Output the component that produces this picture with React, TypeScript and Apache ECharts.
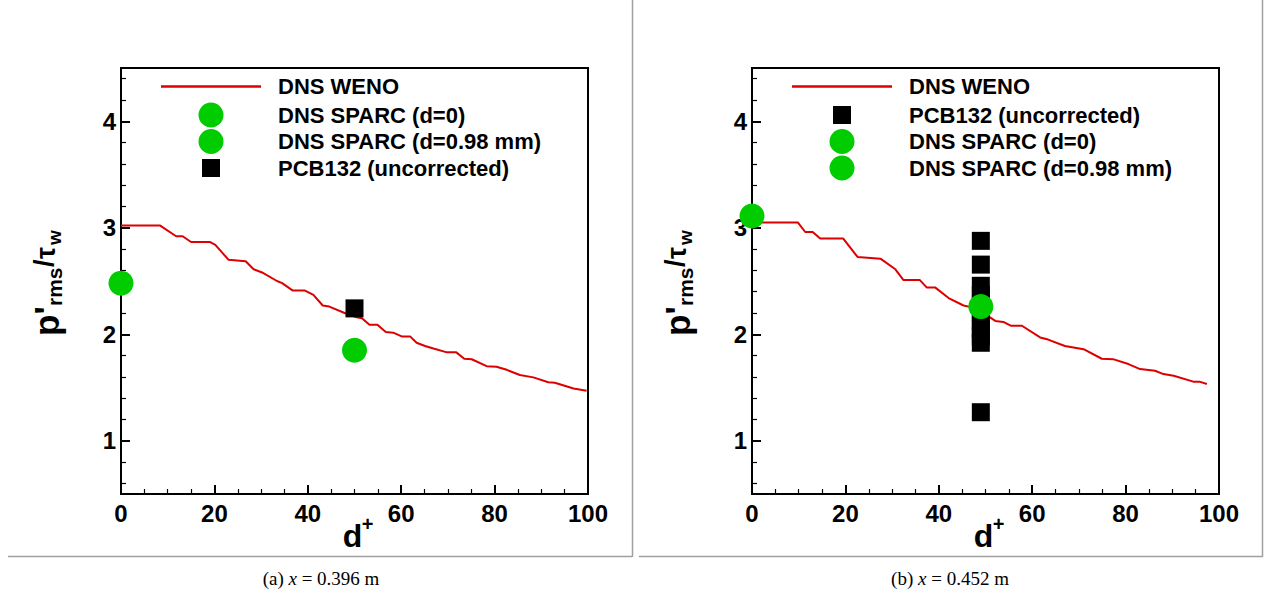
import React, { useEffect, useRef } from "react";
import * as echarts from "echarts";

const FONT = '"Liberation Sans", Arial, Helvetica, sans-serif';
const SERIF = '"Liberation Serif", "Times New Roman", serif';

// ---- axis ticks ----
const yMajorTicks = [1, 2, 3, 4];
const yMinorTicks = [0.6, 0.8, 1.2, 1.4, 1.6, 1.8, 2.2, 2.4, 2.6, 2.8, 3.2, 3.4, 3.6, 3.8, 4.2, 4.4];

// ---- names ----
const WENO = "DNS WENO";
const SPARC0 = "DNS SPARC (d=0)";
const SPARC098 = "DNS SPARC (d=0.98 mm)";
const PCB = "PCB132 (uncorrected)";

// ---- panel (a) x = 0.396 m ----
const leftWenoX = [0, 8.4, 11.8, 13.2, 15.0, 19.1, 20.2, 23.0, 26.7, 28.4, 30.2, 33.4, 34.5, 36.8, 39.4, 41.2, 43.2, 44.6, 48.4, 50.5, 51.6, 53.2, 54.9, 56.7, 58.3, 60.1, 61.9, 63.3, 65.1, 66.9, 69.8, 71.8, 73.5, 75.1, 78.3, 80.4, 82.6, 85.4, 88.3, 91.5, 92.9, 96.9, 99.7];
const leftWenoY = [3.02, 3.02, 2.92, 2.92, 2.866, 2.866, 2.84, 2.70, 2.685, 2.61, 2.58, 2.50, 2.48, 2.41, 2.41, 2.37, 2.27, 2.26, 2.19, 2.16, 2.15, 2.09, 2.09, 2.02, 2.015, 1.98, 1.98, 1.92, 1.89, 1.866, 1.83, 1.83, 1.77, 1.765, 1.70, 1.695, 1.666, 1.617, 1.595, 1.55, 1.545, 1.49, 1.47];
const leftSparc0 = [[0, 2.48]];
const leftSparc098 = [[50, 1.85]];
const leftPcb = [[50, 2.243]];

// ---- panel (b) x = 0.452 m ----
const rightWenoX = [0, 9.8, 11.4, 13.0, 14.6, 19.5, 22.6, 27.5, 30.7, 32.4, 35.9, 37.4, 39.2, 42.1, 45.3, 47.4, 49.5, 52.1, 53.8, 55.4, 57.8, 61.7, 63.4, 67.0, 71.0, 74.9, 77.3, 80.6, 83.1, 86.3, 88.1, 90.3, 94.5, 95.8, 97.4];
const rightWenoY = [3.05, 3.05, 2.96, 2.96, 2.90, 2.90, 2.726, 2.71, 2.61, 2.51, 2.51, 2.44, 2.44, 2.34, 2.27, 2.25, 2.20, 2.125, 2.116, 2.08, 2.08, 1.97, 1.95, 1.89, 1.86, 1.77, 1.766, 1.72, 1.673, 1.657, 1.626, 1.61, 1.555, 1.555, 1.533];
const rightPcbX = 49;
const rightPcbY = [2.877, 2.654, 2.455, 2.37, 2.29, 2.21, 2.13, 2.05, 1.98, 1.92, 1.268];
const rightSparc0 = [[0, 3.11]];
const rightSparc098 = [[49, 2.26]];

const captionLetters = ["(a)", "(b)"];
const captionPositions = ["0.396", "0.452"];

const RED = "#dd0000";
const GREEN = "#00cc00";

const GRIDS = [
  { left: 121, top: 68, width: 467, height: 426 },
  { left: 752, top: 68, width: 467, height: 426 },
];

// legend icons: degenerate corner sub-paths keep the icon box 100 px wide so the symbol is centred
const ICON_LINE = "path://M0,0H100V2.5H0Z";
const ICON_SQUARE = "path://M0,0L0,0ZM100,18L100,18ZM41,0H59V18H41Z";
const ICON_CIRCLE = "path://M0,0L0,0ZM100,25L100,25ZM37.5,12.5A12.5,12.5 0 1,0 62.5,12.5A12.5,12.5 0 1,0 37.5,12.5Z";

function zip(xs: number[], ys: number[]) {
  return xs.map((x, i) => [x, ys[i]]);
}

export default function App() {
  const ref = useRef<HTMLDivElement>(null);

  useEffect(() => {
    if (!ref.current) return;
    const chart = echarts.init(ref.current, null, { renderer: "svg" });

    const labelStyle = { fontSize: 24, fontWeight: "bold", fontFamily: FONT, color: "#000" };
    const black2 = { color: "#000", width: 2 };

    const xAxis = GRIDS.map((_, i) => ({
      gridIndex: i,
      type: "value",
      min: 0,
      max: 100,
      interval: 20,
      axisLine: { show: true, lineStyle: black2 },
      axisTick: { show: true, inside: true, length: 9, lineStyle: black2 },
      minorTick: { show: true, splitNumber: 4, length: 5, lineStyle: { color: "#000", width: 1.2 } },
      axisLabel: { ...labelStyle, margin: 7, showMinLabel: true, showMaxLabel: true },
      splitLine: { show: false },
      minorSplitLine: { show: false },
    }));

    const yAxis: any[] = [];
    GRIDS.forEach((g, i) => {
      yAxis.push({
        gridIndex: i,
        type: "value",
        min: 0.5,
        max: 4.5,
        position: "left",
        axisLine: { show: true, lineStyle: black2 },
        axisTick: { show: true, inside: true, length: 9, customValues: yMajorTicks, lineStyle: black2 },
        axisLabel: { ...labelStyle, margin: 5, customValues: yMajorTicks },
        splitLine: { show: false },
      });
      yAxis.push({
        gridIndex: i,
        type: "value",
        min: 0.5,
        max: 4.5,
        position: "right",
        offset: -g.width,
        axisLine: { show: false },
        axisTick: { show: true, inside: false, length: 5, customValues: yMinorTicks, lineStyle: { color: "#000", width: 1.2 } },
        axisLabel: { show: false },
        splitLine: { show: false },
      });
    });

    const lineSeries = (xi: number, yi: number, data: number[][]) => ({
      name: WENO,
      type: "line",
      xAxisIndex: xi,
      yAxisIndex: yi,
      data,
      symbol: "none",
      showSymbol: false,
      lineStyle: { color: RED, width: 2 },
      itemStyle: { color: RED },
      z: 2,
    });
    const scatter = (name: string, xi: number, yi: number, data: number[][], symbol: string, size: number, color: string, z: number) => ({
      name,
      type: "scatter",
      xAxisIndex: xi,
      yAxisIndex: yi,
      data,
      symbol,
      symbolSize: size,
      itemStyle: { color, opacity: 1 },
      clip: false,
      z,
    });

    const series = [
      lineSeries(0, 0, zip(leftWenoX, leftWenoY)),
      scatter(SPARC0, 0, 0, leftSparc0, "circle", 25, GREEN, 3),
      scatter(SPARC098, 0, 0, leftSparc098, "circle", 25, GREEN, 3),
      scatter(PCB, 0, 0, leftPcb, "rect", 18, "#000", 4),
      lineSeries(1, 2, zip(rightWenoX, rightWenoY)),
      scatter(PCB, 1, 2, rightPcbY.map((y) => [rightPcbX, y]), "rect", 18, "#000", 3),
      scatter(SPARC0, 1, 2, rightSparc0, "circle", 25, GREEN, 4),
      scatter(SPARC098, 1, 2, rightSparc098, "circle", 25, GREEN, 4),
    ];

    const legendText = { fontSize: 22, fontWeight: "bold", fontFamily: FONT, color: "#000", padding: [0, 0, 0, 12] };
    const iconFor: Record<string, string> = {
      [WENO]: ICON_LINE,
      [SPARC0]: ICON_CIRCLE,
      [SPARC098]: ICON_CIRCLE,
      [PCB]: ICON_SQUARE,
    };
    const colorFor: Record<string, string> = {
      [WENO]: RED,
      [SPARC0]: GREEN,
      [SPARC098]: GREEN,
      [PCB]: "#000",
    };
    const mkLegend = (name: string, left: number, centerY: number, h: number) => ({
      show: true,
      orient: "vertical",
      left,
      top: centerY - Math.max(h, 22) / 2,
      padding: 0,
      itemGap: 0,
      itemWidth: 100,
      itemHeight: h,
      selectedMode: false,
      symbolKeepAspect: true,
      data: [{ name, icon: iconFor[name], itemStyle: { color: colorFor[name], borderWidth: 0 } }],
      textStyle: legendText,
    });
    const rows = [88, 115, 141.5, 168];
    const legend = [
      mkLegend(WENO, 161, rows[0], 25),
      mkLegend(SPARC0, 161, rows[1], 25),
      mkLegend(SPARC098, 161, rows[2], 25),
      mkLegend(PCB, 161, rows[3], 18),
      mkLegend(WENO, 792, rows[0], 25),
      mkLegend(PCB, 792, rows[1], 18),
      mkLegend(SPARC0, 792, rows[2], 25),
      mkLegend(SPARC098, 792, rows[3], 25),
    ];

    const sepStyle = { stroke: "#a0a0a0", lineWidth: 1.5 };
    const graphic: any[] = [
      { type: "line", shape: { x1: 8, y1: 556.5, x2: 632, y2: 556.5 }, style: sepStyle, silent: true },
      { type: "line", shape: { x1: 632.5, y1: 0, x2: 632.5, y2: 557 }, style: sepStyle, silent: true },
      { type: "line", shape: { x1: 639, y1: 556.5, x2: 1262.5, y2: 556.5 }, style: sepStyle, silent: true },
      { type: "line", shape: { x1: 1262.5, y1: 0, x2: 1262.5, y2: 557 }, style: sepStyle, silent: true },
    ];

    GRIDS.forEach((g, i) => {
      const cx = g.left + g.width / 2;
      graphic.push({
        type: "text",
        x: i === 0 ? 321 : 950,
        y: 578,
        style: {
          text: `${captionLetters[i]} {i|x} = ${captionPositions[i]} m`,
          align: "center",
          verticalAlign: "middle",
          fontFamily: SERIF,
          fontSize: 19,
          fill: "#000",
          rich: { i: { fontStyle: "italic", fontFamily: SERIF, fontSize: 19 } },
        },
        silent: true,
      });
      graphic.push({
        type: "text",
        x: cx - 2,
        y: 536,
        style: { text: "d", align: "center", verticalAlign: "middle", fontFamily: FONT, fontWeight: "bold", fontSize: 32, fill: "#000" },
        silent: true,
      });
      graphic.push({
        type: "text",
        x: cx + 13,
        y: 524,
        style: { text: "+", align: "center", verticalAlign: "middle", fontFamily: FONT, fontWeight: "bold", fontSize: 20, fill: "#000" },
        silent: true,
      });
      const t = (text: string, x: number, y: number, size: number) => ({
        type: "text",
        x,
        y,
        style: { text, align: "left", verticalAlign: "middle", fontFamily: FONT, fontWeight: "bold", fontSize: size, fill: "#000" },
        silent: true,
      });
      graphic.push({
        type: "group",
        x: g.left - 75,
        y: 280,
        rotation: Math.PI / 2,
        silent: true,
        children: [
          t("p'", -56, 0, 35),
          t("rms", -26, 8, 21),
          t("/", 13, -2, 27),
          t("\u03c4", 21, 0, 27),
          t("w", 35, 8, 19),
        ],
      });
    });

    chart.setOption({
      animation: false,
      backgroundColor: "#fff",
      grid: GRIDS.map((g) => ({ ...g, show: true, borderColor: "#000", borderWidth: 2, backgroundColor: "transparent" })),
      xAxis,
      yAxis,
      legend,
      series,
      graphic,
    } as any);

    return () => chart.dispose();
  }, []);

  return (
    <div
      ref={ref}
      style={{ position: "absolute", left: 0, top: 0, width: 1264, height: 596, background: "#fff" }}
    />
  );
}
